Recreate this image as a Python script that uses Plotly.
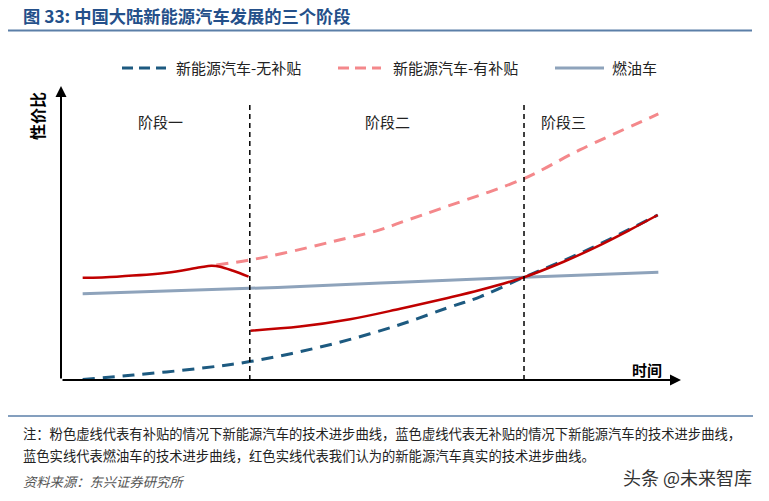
import plotly.graph_objects as go

# ---- data (abstract time / value units) ----
stage_labels = ["阶段一", "阶段二", "阶段三"]
stage_label_x = [16.0, 52.7, 81.1]
stage_bounds = [30.5, 74.8]

fuel_x = [3.5, 30.5, 38.6, 54.8, 74.8, 96.5]
fuel_y = [29.5, 31.4, 32.0, 33.5, 35.2, 36.9]

subsidy_x = [25.1, 30.5, 35.9, 43.9, 51.5, 54.8, 62.3, 74.8, 83.8, 96.5]
subsidy_y = [39.4, 41.1, 43.4, 47.4, 51.4, 53.9, 59.4, 69.0, 78.8, 91.1]

nosub_x = [3.5, 11.7, 22.5, 30.5, 38.6, 46.7, 54.8, 62.3, 67.7, 74.8, 81.2, 86.5, 91.9, 96.4]
nosub_y = [0.2, 1.7, 4.0, 6.3, 9.7, 13.9, 19.0, 24.6, 28.5, 35.2, 40.9, 46.0, 51.7, 56.5]

real_x = [3.5, 9.0, 17.1, 22.5, 24.3, 25.7, 27.8, 30.3, None,
          30.6, 38.6, 46.7, 54.8, 62.3, 67.7, 74.8, 81.2, 86.5, 91.9, 96.4]
real_y = [35.0, 35.4, 36.7, 38.6, 39.1, 38.8, 37.4, 35.4, None,
          16.9, 18.3, 20.8, 24.4, 28.0, 30.8, 35.2, 40.5, 45.6, 51.4, 56.5]

legend_names = ["新能源汽车-无补贴", "新能源汽车-有补贴", "燃油车"]

title_text = "图 33: 中国大陆新能源汽车发展的三个阶段"
note1 = "注：粉色虚线代表有补贴的情况下新能源汽车的技术进步曲线，蓝色虚线代表无补贴的情况下新能源汽车的技术进步曲线，"
note2 = "蓝色实线代表燃油车的技术进步曲线，红色实线代表我们认为的新能源汽车真实的技术进步曲线。"
source_text = "资料来源：东兴证券研究所"
watermark = "头条 @未来智库"

# ---- styles ----
C_BLUE = "#1D5A80"
C_PINK = "#F4888B"
C_GRAY = "#8EA3BB"
C_RED = "#C00000"
FONT = "Noto Sans CJK SC"

W, H = 769, 501
L, R, T, B = 61, 680, 88, 380  # plot area in pixels


def px(xp):
    return (xp - L) / (R - L)


def py(yp):
    return (B - yp) / (B - T)


fig = go.Figure()
fig.add_trace(go.Scatter(x=fuel_x, y=fuel_y, mode="lines",
                         line=dict(color=C_GRAY, width=3, shape="spline"), name=legend_names[2]))
fig.add_trace(go.Scatter(x=subsidy_x, y=subsidy_y, mode="lines",
                         line=dict(color=C_PINK, width=3, dash="12px,8px", shape="spline"), name=legend_names[1]))
fig.add_trace(go.Scatter(x=nosub_x, y=nosub_y, mode="lines",
                         line=dict(color=C_BLUE, width=3, dash="12px,8px", shape="spline"), name=legend_names[0]))
fig.add_trace(go.Scatter(x=real_x, y=real_y, mode="lines", connectgaps=False,
                         line=dict(color=C_RED, width=2.5, shape="spline"), name="真实"))

shapes = []
for bx in stage_bounds:
    shapes.append(dict(type="line", xref="x", yref="y", x0=bx, x1=bx, y0=0, y1=94.9,
                       line=dict(color="black", width=1.5, dash="5px,4px")))
# title rule and bottom rule
shapes.append(dict(type="line", xref="paper", yref="paper", x0=px(8), x1=px(752), y0=py(30.5), y1=py(30.5),
                   line=dict(color="#5B7FA8", width=2)))
shapes.append(dict(type="line", xref="paper", yref="paper", x0=px(8), x1=px(753), y0=py(416), y1=py(416),
                   line=dict(color="#5B7FA8", width=1.5)))
# legend symbols
leg_y = py(68)
shapes.append(dict(type="line", xref="paper", yref="paper", x0=px(122), x1=px(166), y0=leg_y, y1=leg_y,
                   line=dict(color=C_BLUE, width=3, dash="11px,6px")))
shapes.append(dict(type="line", xref="paper", yref="paper", x0=px(338), x1=px(381), y0=leg_y, y1=leg_y,
                   line=dict(color=C_PINK, width=3, dash="11px,6px")))
shapes.append(dict(type="line", xref="paper", yref="paper", x0=px(555), x1=px(604), y0=leg_y, y1=leg_y,
                   line=dict(color=C_GRAY, width=3)))

ann = []
# axes with arrows
ann.append(dict(xref="paper", yref="paper", x=px(681), y=0, ax=-(681 - 61), ay=0,
                showarrow=True, arrowhead=2, arrowsize=1.1, arrowwidth=2, arrowcolor="black", text=""))
ann.append(dict(xref="paper", yref="paper", x=0, y=py(86), ax=0, ay=(380 - 86),
                showarrow=True, arrowhead=2, arrowsize=1.1, arrowwidth=2, arrowcolor="black", text=""))
ann.append(dict(xref="paper", yref="paper", x=px(647), y=py(369), text="<b>时间</b>", showarrow=False,
                font=dict(family=FONT, size=15, color="black"), xanchor="center", yanchor="middle"))
ann.append(dict(xref="paper", yref="paper", x=px(37), y=py(116), text="<b>性价比</b>", showarrow=False,
                textangle=-90, font=dict(family=FONT, size=16, color="black"), xanchor="center", yanchor="middle"))
for lab, lx in zip(stage_labels, stage_label_x):
    ann.append(dict(xref="x", yref="paper", x=lx, y=py(121), text=lab, showarrow=False,
                    font=dict(family=FONT, size=15, color="#222"), xanchor="center", yanchor="middle"))
# legend labels
for name, lx in zip(legend_names, [174, 391, 610]):
    ann.append(dict(xref="paper", yref="paper", x=px(lx), y=leg_y, text=name, showarrow=False,
                    font=dict(family=FONT, size=15, color="#222"), xanchor="left", yanchor="middle"))
# title
ann.append(dict(xref="paper", yref="paper", x=px(21), y=py(15), text="<b>" + title_text + "</b>", showarrow=False,
                font=dict(family=FONT, size=17.3, color="#24508A"), xanchor="left", yanchor="middle"))
# notes
ann.append(dict(xref="paper", yref="paper", x=px(21), y=py(433), text=note1, showarrow=False,
                font=dict(family=FONT, size=13.3, color="#222"), xanchor="left", yanchor="middle"))
ann.append(dict(xref="paper", yref="paper", x=px(21), y=py(455), text=note2, showarrow=False,
                font=dict(family=FONT, size=13.3, color="#222"), xanchor="left", yanchor="middle"))
ann.append(dict(xref="paper", yref="paper", x=px(21), y=py(481), text="<i>" + source_text + "</i>", showarrow=False,
                font=dict(family=FONT, size=13.3, color="#555"), xanchor="left", yanchor="middle"))
ann.append(dict(xref="paper", yref="paper", x=px(754), y=py(477), text=watermark, showarrow=False,
                font=dict(family=FONT, size=18, color="#333"), xanchor="right", yanchor="middle"))

fig.update_layout(
    width=W, height=H,
    margin=dict(l=L, r=W - R, t=T, b=H - B, pad=0),
    paper_bgcolor="white", plot_bgcolor="white",
    showlegend=False,
    xaxis=dict(range=[0, 100], visible=False, fixedrange=True),
    yaxis=dict(range=[0, 100], visible=False, fixedrange=True),
    shapes=shapes, annotations=ann,
    font=dict(family=FONT),
)

fig.write_html("out.html", config=dict(displayModeBar=False),
               post_script="document.body.style.margin='0px';document.body.style.overflow='hidden';")
